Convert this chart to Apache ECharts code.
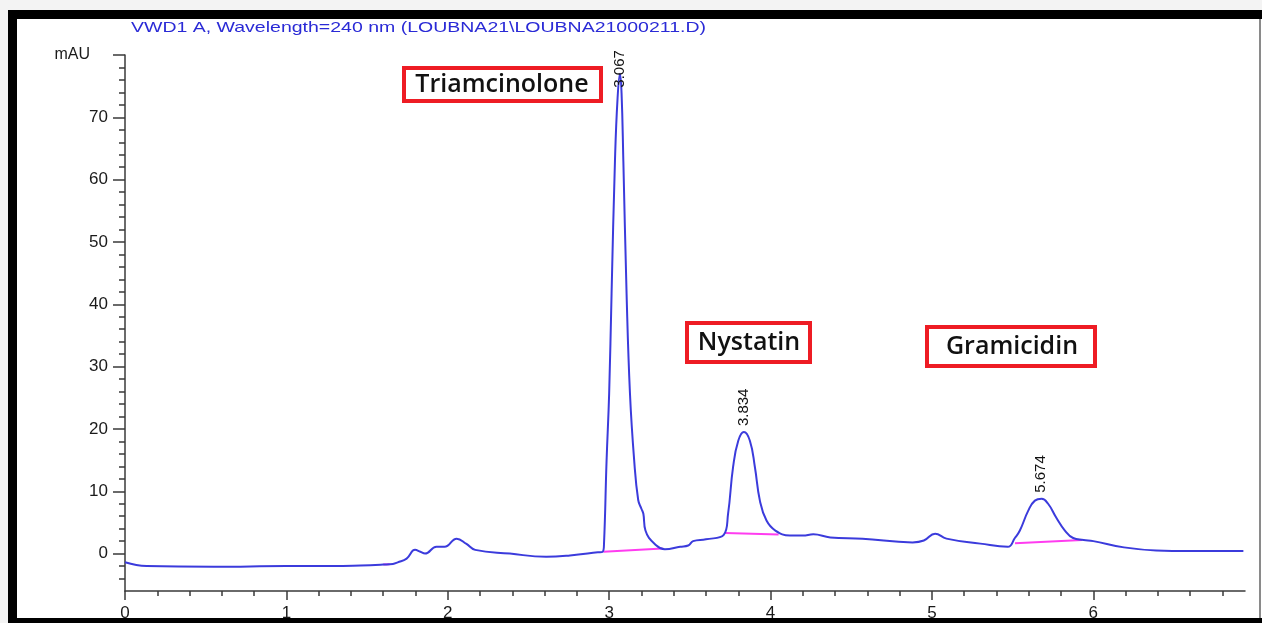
<!DOCTYPE html>
<html>
<head>
<meta charset="utf-8">
<title>VWD1 A chromatogram</title>
<script src="https://cdn.jsdelivr.net/npm/echarts@6/dist/echarts.min.js"></script>
<style>
    html, body { margin: 0; padding: 0; background: #fff; }
    #main { width: 1262px; height: 623px; }
</style>
</head>
<body>
<div id="main"></div>
<script>
// retention time (min) / absorbance (mAU)
var traceTime = [
    0, 0.134, 0.55, 1.0, 1.29, 1.46, 1.6, 1.66, 1.69, 1.745, 1.797, 1.83, 1.859, 1.93, 1.98,
    2.055, 2.116, 2.17, 2.385, 2.61, 2.757, 2.93, 2.96, 2.968, 2.984, 3.0, 3.015, 3.036, 3.052,
    3.067, 3.077, 3.088, 3.108, 3.129, 3.155, 3.18, 3.2, 3.212, 3.225, 3.293, 3.345, 3.44,
    3.49, 3.52, 3.6, 3.71, 3.737, 3.768, 3.8, 3.835, 3.872, 3.903, 3.934, 3.975, 4.03, 4.12,
    4.2, 4.265, 4.37, 4.57, 4.88, 4.95, 5.02, 5.09, 5.3, 5.47, 5.514, 5.545, 5.597, 5.638,
    5.68, 5.72, 5.77, 5.824, 5.875, 5.94, 6.0, 6.19, 6.39, 6.6, 6.93
];
var traceMAU = [
    -1.4, -2.0, -2.1, -2.0, -2.0, -1.9, -1.75, -1.65, -1.4, -0.8, 0.6, 0.3, 0.0, 1.1, 1.1,
    2.4, 1.55, 0.6, 0.0, -0.5, -0.3, 0.2, 0.3, 1.5, 14.9, 25.7, 41.7, 63, 73,
    77, 73.8, 63, 41.7, 25.7, 15, 8.6, 7.2, 6.4, 3.7, 1.3, 0.7, 1.1,
    1.3, 2.0, 2.3, 3.0, 6.4, 13.9, 18.1, 19.5, 18.1, 13.9, 8.5, 5.3, 3.7, 2.9,
    2.9, 3.1, 2.6, 2.4, 1.8, 2.1, 3.2, 2.4, 1.6, 1.1, 2.5, 3.7, 6.9, 8.5,
    8.8, 8.0, 5.8, 3.7, 2.5, 2.2, 2.0, 1.0, 0.5, 0.4, 0.4
];

// integration baselines (start/end points)
var baselineTime = [[1.6, 1.64], [2.965, 3.33], [3.72, 4.05], [5.515, 5.93]];
var baselineMAU = [[-1.75, -1.7], [0.3, 0.8], [3.3, 3.05], [1.65, 2.2]];

// peak apex labels
var peakTime = [3.067, 3.834, 5.674];
var peakMAU = [77, 19.5, 8.8];

// compound names
var compounds = ['Triamcinolone', 'Nystatin', 'Gramicidin'];

// axis ticks
var xMajor = [0, 1, 2, 3, 4, 5, 6];
var yMajor = [0, 10, 20, 30, 40, 50, 60, 70, 80];

var xMinor = [];
for (var i = 1; i <= 34; i++) {
    if (i % 5 !== 0) xMinor.push(+(i * 0.2).toFixed(1));
}
var yMinor = [];
for (var j = -4; j <= 78; j += 2) {
    if (j % 10 !== 0) yMinor.push(j);
}

var chart = echarts.init(document.getElementById('main'), null, { renderer: 'canvas' });

var tracePoints = traceTime.map(function (t, k) { return [t, traceMAU[k]]; });

var series = [];
//积分基线
baselineTime.forEach(function (seg, k) {
    series.push({
        type: 'line',
        data: [[seg[0], baselineMAU[k][0]], [seg[1], baselineMAU[k][1]]],
        showSymbol: false,
        silent: true,
        lineStyle: { color: '#ff3cf0', width: 2 },
        z: 2
    });
});

//色谱曲线
series.push({
    type: 'line',
    data: tracePoints,
    showSymbol: false,
    smooth: 0.45,
    lineStyle: { color: '#3b3bdc', width: 2 },
    z: 3,
    markPoint: {
        symbol: 'circle',
        symbolSize: 0,
        silent: true,
        label: {
            show: true,
            position: 'top',
            distance: 6,
            rotate: 90,
            align: 'left',
            verticalAlign: 'middle',
            fontFamily: 'Liberation Sans',
            fontSize: 15,
            color: '#111',
            formatter: function (p) { return p.data.coord[0].toFixed(3); }
        },
        data: peakTime.map(function (t, k) {
            var item = { coord: [t, peakMAU[k]] };
            if (k === 0) item.label = { distance: -14 };
            return item;
        })
    }
});

var lblFont = { fontFamily: 'Liberation Sans', fontSize: 17, color: '#1a1a1a' };
var axisColor = '#3a3a3a';

var option = {
    backgroundColor: '#ffffff',
    animation: false,
    grid: { left: 125, right: 17, top: 55, bottom: 32 },
    xAxis: [{
        type: 'value',
        min: 0,
        max: 6.94,
        axisLine: { show: true, onZero: false, lineStyle: { color: axisColor, width: 1.5 } },
        axisTick: { show: true, customValues: xMajor, length: 9, lineStyle: { color: axisColor, width: 1.5 } },
        axisLabel: Object.assign({ customValues: xMajor, margin: 14 }, lblFont),
        splitLine: { show: false }
    }, {
        type: 'value',
        min: 0,
        max: 6.94,
        position: 'bottom',
        axisLine: { show: false, onZero: false },
        axisTick: { show: true, customValues: xMinor, length: 5, lineStyle: { color: axisColor, width: 1.5 } },
        axisLabel: { show: false },
        splitLine: { show: false }
    }],
    yAxis: [{
        type: 'value',
        min: -6,
        max: 80,
        axisLine: { show: true, onZero: false, lineStyle: { color: axisColor, width: 1.5 } },
        axisTick: { show: true, customValues: yMajor, length: 12, lineStyle: { color: axisColor, width: 1.5 } },
        axisLabel: Object.assign({
            customValues: yMajor,
            margin: 17,
            formatter: function (v) { return v === 80 ? '{u|mAU}' : String(v); },
            rich: { u: { fontFamily: 'Liberation Sans', fontSize: 16, color: '#1a1a1a', padding: [0, 18, 0, 0] } }
        }, lblFont),
        splitLine: { show: false }
    }, {
        type: 'value',
        min: -6,
        max: 80,
        position: 'left',
        axisLine: { show: false, onZero: false },
        axisTick: { show: true, customValues: yMinor, length: 6, lineStyle: { color: axisColor, width: 1.5 } },
        axisLabel: { show: false },
        splitLine: { show: false }
    }],
    series: series,
    graphic: [
        // frame round the screenshot
        { type: 'rect', shape: { x: 0, y: 0, width: 1262, height: 10 }, style: { fill: '#f3f3f3' }, silent: true },
        { type: 'rect', shape: { x: 0, y: 0, width: 8, height: 623 }, style: { fill: '#f3f3f3' }, silent: true },
        { type: 'rect', shape: { x: 8, y: 10, width: 1254, height: 9 }, style: { fill: '#000' }, silent: true },
        { type: 'rect', shape: { x: 8, y: 10, width: 9, height: 613 }, style: { fill: '#000' }, silent: true },
        { type: 'rect', shape: { x: 8, y: 618, width: 1254, height: 5 }, style: { fill: '#000' }, silent: true },
        { type: 'rect', shape: { x: 1259, y: 19, width: 2, height: 599 }, style: { fill: '#8a8a8a' }, silent: true },
        // signal title
        {
            type: 'text', x: 131, y: 20, scaleX: 1.3, silent: true,
            style: {
                text: 'VWD1 A, Wavelength=240 nm (LOUBNA21\\LOUBNA21000211.D)',
                fontFamily: 'Liberation Sans', fontSize: 15, fill: '#2a2ad6',
                textAlign: 'left', textVerticalAlign: 'top'
            }
        },
        // compound boxes
        { type: 'rect', shape: { x: 404, y: 68, width: 197, height: 33 }, style: { fill: '#fff', stroke: '#ee1c24', lineWidth: 4 }, silent: true },
        { type: 'text', x: 502, y: 85, silent: true, style: { text: compounds[0], fontFamily: 'Open Sans', fontWeight: 600, fontSize: 25, fill: '#111', textAlign: 'center', textVerticalAlign: 'middle' } },
        { type: 'rect', shape: { x: 687, y: 323, width: 123, height: 39 }, style: { fill: '#fff', stroke: '#ee1c24', lineWidth: 4 }, silent: true },
        { type: 'text', x: 749, y: 343, silent: true, style: { text: compounds[1], fontFamily: 'Open Sans', fontWeight: 600, fontSize: 25, fill: '#111', textAlign: 'center', textVerticalAlign: 'middle' } },
        { type: 'rect', shape: { x: 927, y: 327, width: 168, height: 39 }, style: { fill: '#fff', stroke: '#ee1c24', lineWidth: 4 }, silent: true },
        { type: 'text', x: 1012, y: 347, silent: true, style: { text: compounds[2], fontFamily: 'Open Sans', fontWeight: 600, fontSize: 25, fill: '#111', textAlign: 'center', textVerticalAlign: 'middle' } }
    ]
};

chart.setOption(option);
</script>
</body>
</html>
